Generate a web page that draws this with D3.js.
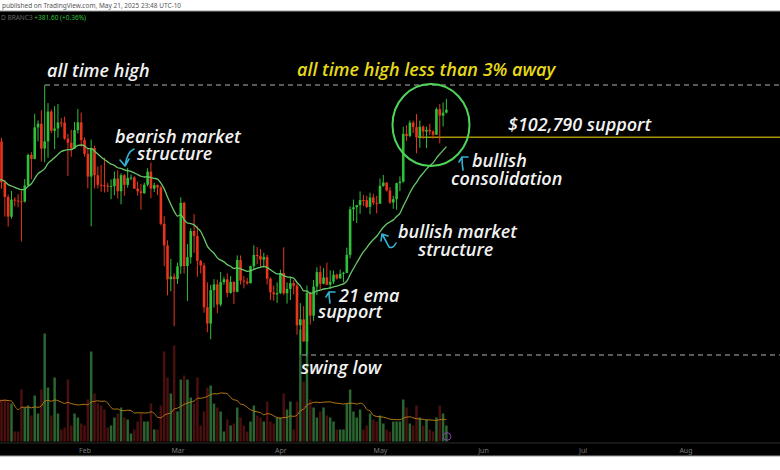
<!DOCTYPE html>
<html>
<head>
<meta charset="utf-8">
<script src="https://cdn.jsdelivr.net/npm/d3@7"></script>
<style>
  body { margin: 0; background: #fff; }
  svg { display: block; }
  .note { font-family: "Open Sans", sans-serif; font-style: italic; font-weight: 600; font-size: 18px; }
</style>
</head>
<body>
<svg id="chart" width="780" height="470"></svg>
<script>
// BTC daily candles, Jan 6 – May 21 2025 (one entry per day)
const firstDay = "2025-01-06";
const open = [98360,102240,96950,95040,92480,94700,94570,94490,94450,96530,100500,99990,104080,104560,101330,102260,106140,103650,103940,104720,104700,102600,102080,101330,103730,104730,102430,100640,97690,101400,97870,96620,96550,96530,96450,96460,97430,95780,97870,96610,97500,97570,96120,95770,95540,96630,98330,96130,96580,96270,91550,88740,84350,84700,84370,86030,94270,86070,87220,90620,89960,86740,86150,80730,78600,82930,83680,81070,83980,84340,82580,84010,82720,86850,84170,84040,83830,86050,87500,87390,86900,87230,84420,82650,82390,82550,85160,82520,83100,83840,83500,78370,79140,76270,82570,79630,83400,85280,83760,84590,83640,84030,84940,84450,85060,85170,87520,93440,93700,93980,94640,94630,93750,94980,94280,94170,96490,96910,95890,94320,94750,96830,97030,103240,102970,104700,104110,102790,104170,103540,103760,103550,103130,106450,105610,106000];
const high = [102480,102720,97260,95350,95840,95000,95400,95840,97370,100680,100870,105860,104990,106310,109590,107240,106390,106850,107120,105290,105470,103220,103780,104780,106460,106010,102780,101460,102500,101730,99000,99170,100140,96880,97320,98350,98500,98120,98000,98830,97970,97730,97050,96750,96900,98770,99510,96900,96670,96500,92540,89400,87000,85120,86520,95000,94420,88910,90990,92810,91220,86850,86470,83950,83620,84360,84300,85310,84670,85120,84760,84060,87450,87440,84780,84520,86130,88770,88550,88290,87790,87520,84590,83530,83940,85590,88500,83940,84720,84230,83750,81240,80870,83540,82700,84250,85900,86100,85800,86500,85500,85470,85090,85600,85320,88460,93820,94700,94000,95760,95300,95200,95600,95460,95200,97440,97900,96940,96320,95200,96900,97730,104150,104360,104980,104970,105820,104980,104350,104200,104550,103710,106660,107110,107320,107800];
const low = [97910,96110,92500,91200,92210,93830,93710,89260,94310,96460,97350,99940,102280,99650,99550,100120,103340,101260,102750,104110,102460,97780,100270,101330,103290,101560,100280,96150,91230,96150,96160,95710,95620,95690,94750,95260,94850,94090,95200,96250,97230,96100,95200,93390,95440,96420,94870,95690,95270,91350,86050,82260,82790,78260,83740,85040,85080,81530,86380,87790,84670,85090,80000,77460,76560,80670,79940,80820,83630,82020,82460,81130,82640,83650,83170,83640,83800,85540,86300,85860,85840,83650,81640,81570,81280,82430,82320,81190,81660,82380,77150,74510,76240,74620,78460,78940,82290,83030,83680,83600,83110,83740,84300,84450,83950,85140,87070,91930,91660,92860,93870,93600,92800,93990,92910,94130,96350,95760,94140,93510,93380,95800,96890,102310,102800,103350,100720,101430,102600,101380,103100,102610,103120,102000,104190,105900];
const close = [102240,96950,95040,92480,94700,94570,94490,94450,96530,100500,99990,104080,104560,101330,102260,106140,103650,103940,104720,104700,102600,102080,101330,103730,104730,102430,100640,97690,101400,97870,96620,96550,96530,96450,96460,97430,95780,97870,96610,97500,97570,96120,95770,95540,96630,98330,96130,96580,96270,91550,88740,84350,84700,84370,86030,94270,86070,87220,90620,89960,86740,86150,80730,78600,82930,83680,81070,83980,84340,82580,84010,82720,86850,84170,84040,83830,86050,87500,87390,86900,87230,84420,82650,82390,82550,85160,82520,83100,83840,83500,78370,79140,76270,82570,79630,83400,85280,83760,84590,83640,84030,84940,84450,85060,85170,87520,93440,93700,93980,94640,94630,93750,94980,94280,94170,96490,96910,95890,94320,94750,96830,97030,103240,102970,104700,104110,102790,104170,103540,103760,103550,103130,106450,105610,106000,106380];
// daily volume, thousand BTC
const volume = [20,21,21,20,19,5,5,26,17,18,13,23,14,26,54,27,13,32,14,6,7,31,8,14,12,9,8,21,45,24,19,18,16,7,8,12,14,17,12,11,4,6,10,14,10,10,19,6,6,18,45,32,24,48,15,31,33,31,22,19,32,8,15,27,28,19,17,15,5,11,8,9,17,12,8,5,10,18,13,12,10,20,10,9,12,12,24,16,20,6,20,56,30,55,21,17,12,15,17,13,12,10,6,6,6,19,26,15,12,16,6,8,14,11,10,13,9,6,5,10,10,10,21,17,9,8,18,12,8,11,6,5,12,18,14,8];

const emaLength = 21, emaStart = 96800;   // 21-period EMA, value carried in from the prior day
const volMaLength = 20;

const athPrice = 109588, swingLowPrice = 74508, supportPrice = 102790;

const W = 780, H = 470;
const svg = d3.select("#chart");

const dayOf = i => d3.utcDay.offset(new Date(firstDay + "T00:00:00Z"), i);
const candles = close.map((c, i) => ({ date: dayOf(i), o: open[i], h: high[i], l: low[i], c, v: volume[i] }));

// EMA of closes
let e = emaStart;
candles.forEach(d => { e = e + (d.c - e) * 2 / (emaLength + 1); d.ema = e; });
// simple moving average of volume
candles.forEach((d, i) => {
  const win = volume.slice(Math.max(0, i - volMaLength + 1), i + 1);
  d.vma = d3.mean(win);
});

// scales
const x = d3.scaleUtc()
  .domain([new Date("2025-01-06T00:00:00Z"), new Date("2025-08-31T00:00:00Z")])
  .range([-1.8, -1.8 + 237 * 3.32]);
const y = d3.scaleLinear().domain([swingLowPrice, athPrice]).range([355, 85]);
const yv = d3.scaleLinear().domain([0, 54]).range([441.5, 333.5]);

// page frame
svg.append("rect").attr("width", W).attr("height", H).attr("fill", "#fff");
svg.append("rect").attr("x", 0).attr("y", 11).attr("width", W).attr("height", 445).attr("fill", "#000");
svg.append("line").attr("x1", 0).attr("x2", W).attr("y1", 11).attr("y2", 11).attr("stroke", "#9a9a9a").attr("stroke-width", 1);
svg.append("line").attr("x1", 0).attr("x2", W).attr("y1", 456).attr("y2", 456).attr("stroke", "#9a9a9a").attr("stroke-width", 1);

svg.append("text").attr("x", 2).attr("y", 8)
  .attr("font-family", "Noto Sans, sans-serif").attr("font-size", 6.5).attr("fill", "#555")
  .text("published on TradingView.com, May 21, 2025 23:48 UTC-10");
const legend = svg.append("text").attr("x", 1).attr("y", 20)
  .attr("font-family", "Noto Sans, sans-serif").attr("font-size", 6.5);
legend.append("tspan").attr("fill", "#666").text("D   BRANC3  ");
legend.append("tspan").attr("fill", "#2fc23a").text("+381.60 (+0.36%)");

// volume pane
const bw = 2.5;
svg.append("g").selectAll("rect").data(candles).join("rect")
  .attr("x", d => x(d.date) - bw / 2)
  .attr("width", bw)
  .attr("y", d => yv(d.v))
  .attr("height", d => yv(0) - yv(d.v))
  .attr("fill", d => d.c >= d.o ? "#2b6530" : "#4a0f0f");
svg.append("path").datum(candles)
  .attr("fill", "none").attr("stroke", "#b57814").attr("stroke-width", 1)
  .attr("d", d3.line().x(d => x(d.date)).y(d => yv(d.vma)).curve(d3.curveMonotoneX));

// time axis
svg.append("line").attr("x1", 0).attr("x2", W).attr("y1", 443).attr("y2", 443).attr("stroke", "#2a2a2a");
const ax = svg.append("g").attr("transform", "translate(0,444)")
  .call(d3.axisBottom(x).ticks(d3.utcMonth.every(1)).tickFormat(d3.utcFormat("%b")).tickSize(0));
ax.select(".domain").remove();
ax.selectAll("text").attr("fill", "#7a7a7a").attr("font-size", 7).attr("font-family", "Noto Sans, sans-serif").attr("dy", "0.9em");

// reference levels
svg.append("line").attr("x1", 45).attr("x2", W).attr("y1", y(athPrice)).attr("y2", y(athPrice))
  .attr("stroke", "#b0b0b0").attr("stroke-width", 1.2).attr("stroke-dasharray", "5,4");
svg.append("line").attr("x1", 302).attr("x2", W).attr("y1", y(swingLowPrice)).attr("y2", y(swingLowPrice))
  .attr("stroke", "#b0b0b0").attr("stroke-width", 1.2).attr("stroke-dasharray", "5,4");
svg.append("line").attr("x1", 418).attr("x2", W).attr("y1", y(supportPrice)).attr("y2", y(supportPrice))
  .attr("stroke", "#a89400").attr("stroke-width", 1.5);

// candles
const cg = svg.append("g");
cg.selectAll("line").data(candles).join("line")
  .attr("x1", d => x(d.date)).attr("x2", d => x(d.date))
  .attr("y1", d => y(d.h)).attr("y2", d => y(d.l))
  .attr("stroke", d => d.c >= d.o ? "#2fbf3a" : "#e8341c").attr("stroke-width", 1);
cg.selectAll("rect").data(candles).join("rect")
  .attr("x", d => x(d.date) - 1.3).attr("width", 2.6)
  .attr("y", d => y(Math.max(d.o, d.c)))
  .attr("height", d => Math.max(1, Math.abs(y(d.o) - y(d.c))))
  .attr("fill", d => d.c >= d.o ? "#2fbf3a" : "#e8341c");

// 21 EMA
svg.append("path").datum(candles)
  .attr("fill", "none").attr("stroke", "#68c868").attr("stroke-width", 1.3)
  .attr("d", d3.line().x(d => x(d.date)).y(d => y(d.ema)).curve(d3.curveMonotoneX));

// consolidation ring
svg.append("ellipse").attr("cx", 431).attr("cy", 125).attr("rx", 38.5).attr("ry", 41)
  .attr("fill", "none").attr("stroke", "#4fd45a").attr("stroke-width", 2);

// purple marker at the last bar
svg.append("circle").attr("cx", 447).attr("cy", 436.5).attr("r", 3.8)
  .attr("fill", "none").attr("stroke", "#8d3fb0").attr("stroke-width", 1);

// annotations
const note = (tx, ty, str, col) => svg.append("text").attr("class", "note")
  .attr("x", tx).attr("y", ty).attr("fill", col || "#f2f2f2").text(str);
note(47, 77, "all time high");
note(297, 76, "all time high less than 3% away", "#e6da1a");
note(508, 131, "$102,790 support");
note(115, 143, "bearish market");
note(137, 160, "structure");
note(472, 167, "bullish");
note(451, 185, "consolidation");
note(398, 238, "bullish market");
note(418, 256, "structure");
note(339, 302, "21 ema");
note(318, 318, "support");
note(301, 374, "swing low");

// hand-drawn arrows
const arrow = d => svg.append("path").attr("d", d).attr("fill", "none")
  .attr("stroke", "#33b2d6").attr("stroke-width", 1.6).attr("stroke-linecap", "round").attr("stroke-linejoin", "round");
arrow("M134,149 Q127,152 125,166 M120,160 L125,166 L129,159");
arrow("M330,303 Q329,297 329,292 M326,297 L329,292 L335,292");
arrow("M389,247 Q386,241 382,234 M381,241 L382,234 L388,236 M389,247 Q393,249 396,243");
arrow("M463,170 Q462,164 462,158 M459,162 L462,157 L468,157");
</script>
</body>
</html>
